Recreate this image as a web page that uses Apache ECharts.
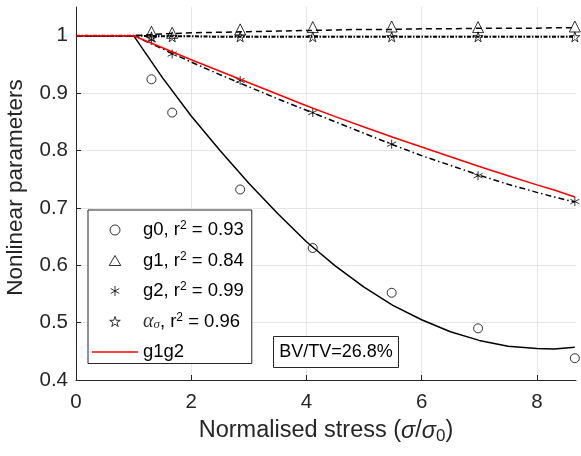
<!DOCTYPE html>
<html><head><meta charset="utf-8">
<script src="https://cdn.jsdelivr.net/npm/echarts@6/dist/echarts.min.js"></script>
<style>html,body{margin:0;padding:0;background:#fff}#c{width:581px;height:456px}</style>
</head><body><div id="c"></div>
<script>
// ---- data ----
const xPts = [1.31, 1.67, 2.85, 4.11, 5.48, 6.98, 8.66];
const g0Pts = [0.924, 0.866, 0.732, 0.630, 0.552, 0.490, 0.438];
const g1Pts = [1.007, 1.005, 1.011, 1.015, 1.016, 1.015, 1.016];
const g2Pts = [0.993, 0.968, 0.922, 0.866, 0.811, 0.756, 0.711];
const alphaPts = [0.998, 0.998, 0.998, 0.998, 0.998, 0.998, 0.998];

const fitX = [0, 1, 1.5, 2, 2.5, 3, 3.5, 4, 4.5, 5, 5.5, 6, 6.5, 7, 7.5, 8, 8.3, 8.66];
const g0Fit = [1, 1, 0.927, 0.860, 0.800, 0.743, 0.690, 0.641, 0.599, 0.562, 0.530, 0.505, 0.484, 0.469, 0.459, 0.455, 0.454, 0.457];
const g1Fit = [1, 1, 1.003, 1.005, 1.006, 1.007, 1.008, 1.009, 1.010, 1.011, 1.011, 1.012, 1.012, 1.013, 1.013, 1.013, 1.014, 1.014];
const g2Fit = [1, 1, 0.977, 0.954, 0.932, 0.911, 0.890, 0.870, 0.850, 0.830, 0.810, 0.791, 0.774, 0.757, 0.741, 0.727, 0.719, 0.710];
const alphaFit = [1, 1, 0.999, 0.999, 0.998, 0.998, 0.998, 0.998, 0.998, 0.998, 0.998, 0.998, 0.998, 0.998, 0.998, 0.998, 0.998, 0.998];
const g1g2Fit = [1, 1, 0.979, 0.958, 0.938, 0.918, 0.898, 0.878, 0.859, 0.841, 0.823, 0.806, 0.789, 0.772, 0.756, 0.740, 0.731, 0.719];

const xTicks = [0, 2, 4, 6, 8];
const yTicks = [0.4, 0.5, 0.6, 0.7, 0.8, 0.9, 1];
const rSquared = { g0: '0.93', g1: '0.84', g2: '0.99', alpha: '0.96' };
const bvtvText = 'BV/TV=26.8%';

// ---- helpers ----
const zip = (xs, ys) => xs.map((x, i) => [x, ys[i]]);
const INK = '#262626';
const STAR = 'path://M50,0 L61.2,34.5 L97.6,34.5 L68.2,55.9 L79.4,90.5 L50,69.1 L20.6,90.5 L31.8,55.9 L2.4,34.5 L38.8,34.5 Z';
const ASTER = 'path://M5,0 L5,10 M0.67,2.5 L9.33,7.5 M0.67,7.5 L9.33,2.5';
const TRI = 'path://M5,0 L10,8.66 L0,8.66 Z';
const LINEICON = 'path://M0,0 L46,0 L46,1.3 L0,1.3 Z';
const near = (v, arr) => arr.some(t => Math.abs(t - v) < 1e-6);

const markerStyle = { color: 'transparent', borderColor: '#000', borderWidth: 1 };
function fitLine(data, type, width) {
  return { type: 'line', data: data, symbol: 'none', showSymbol: false, silent: true,
    lineStyle: { color: '#000', width: width, type: type }, z: 2 };
}
function scatter(name, ys, symbol, size) {
  return { type: 'scatter', name: name, data: zip(xPts, ys), symbol: symbol, symbolSize: size,
    itemStyle: markerStyle, z: 4 };
}

const chart = echarts.init(document.getElementById('c'), null, { renderer: 'canvas' });
chart.setOption({
  animation: false,
  backgroundColor: '#fff',
  textStyle: { fontFamily: 'Liberation Sans' },
  grid: { left: 76, right: 5, top: 7, bottom: 76, containLabel: false, outerBoundsMode: 'none' },
  xAxis: {
    type: 'value', min: 0, max: 8.68, interval: 2,
    axisLine: { show: true, lineStyle: { color: INK, width: 1 } },
    axisTick: { show: true, inside: true, length: 5, lineStyle: { color: INK } },
    axisLabel: { fontSize: 20.5, color: INK, margin: 12, showMaxLabel: false,
      formatter: v => near(v, xTicks) ? String(v) : '' },
    splitLine: { show: true, showMaxLine: false, lineStyle: { color: '#e6e6e6', width: 1 } },
    name: '{t|Normalised stress (}{i|σ}{t|/}{i|σ}{s|0}{t|)}',
    nameLocation: 'middle', nameGap: 37,
    nameTextStyle: { rich: {
      t: { fontSize: 23.5, lineHeight: 28, color: INK, fontFamily: 'Liberation Sans' },
      i: { fontSize: 23.5, lineHeight: 28, color: INK, fontFamily: 'Liberation Sans', fontStyle: 'italic' },
      s: { fontSize: 17, lineHeight: 14, color: INK, fontFamily: 'Liberation Sans', verticalAlign: 'bottom' }
    } }
  },
  yAxis: {
    type: 'value', min: 0.4, max: 1.05, interval: 0.1,
    axisLine: { show: true, lineStyle: { color: INK, width: 1 } },
    axisTick: { show: true, inside: true, length: 5, lineStyle: { color: INK } },
    axisLabel: { fontSize: 20.5, color: INK, margin: 8, showMaxLabel: false,
      formatter: v => near(v, yTicks) ? String(Math.round(v * 10) / 10) : '' },
    splitLine: { show: true, showMaxLine: false, lineStyle: { color: '#e6e6e6', width: 1 } },
    name: 'Nonlinear parameters', nameLocation: 'middle', nameGap: 44,
    nameTextStyle: { fontSize: 22.5, lineHeight: 26, color: INK, padding: [0, 0, 0, 12] }
  },
  legend: {
    orient: 'vertical', left: 88, top: 210,
    padding: [10, 8, 2, 4],
    itemWidth: 46, itemHeight: 10, itemGap: 11,
    backgroundColor: '#fff', borderColor: INK, borderWidth: 1,
    selectedMode: false,
    symbolKeepAspect: true,
    data: ['g0', 'g1', 'g2', 'alpha',
      { name: 'g1g2', icon: LINEICON, itemStyle: { color: '#ff0000', borderWidth: 0 } }],
    itemStyle: { borderWidth: 1 },
    formatter: name => {
      if (name === 'g1g2') return '{t|g1g2}';
      if (name === 'alpha') return '{al|α}{sb|σ}{t|, r}{sp|2}{t| = ' + rSquared.alpha + '}';
      return '{t|' + name + ', r}{sp|2}{t| = ' + rSquared[name] + '}';
    },
    textStyle: { color: '#000', fontSize: 18.5, rich: {
      t: { fontSize: 18.5, lineHeight: 20, color: '#000', fontFamily: 'Liberation Sans' },
      sp: { fontSize: 12, lineHeight: 7, color: '#000', fontFamily: 'Liberation Sans', verticalAlign: 'top' },
      al: { fontSize: 20, lineHeight: 20, color: '#333', fontFamily: 'Liberation Serif', fontStyle: 'italic' },
      sb: { fontSize: 13, lineHeight: 1, color: '#333', fontFamily: 'Liberation Serif', fontStyle: 'italic', verticalAlign: 'bottom' }
    } }
  },
  graphic: [
    { type: 'rect', z: 100, shape: { x: 273.5, y: 336.5, width: 125, height: 31 },
      style: { fill: '#fff', stroke: INK, lineWidth: 1 } },
    { type: 'text', z: 101, x: 336, y: 352,
      style: { text: bvtvText, fontSize: 18, fontFamily: 'Liberation Sans', fill: '#000',
        align: 'center', verticalAlign: 'middle', textAlign: 'center', textVerticalAlign: 'middle' } }
  ],
  series: [
    fitLine(zip(fitX, g0Fit), 'solid', 1.5),
    fitLine(zip(fitX, g1Fit), [6, 4], 1.5),
    fitLine(zip(fitX, alphaFit), [4, 1.5, 1.5, 1.5], 2),
    fitLine(zip(fitX, g2Fit), [6, 3, 1.5, 3], 1.5),
    scatter('g0', g0Pts, 'circle', 9),
    scatter('g1', g1Pts, TRI, 11),
    scatter('g2', g2Pts, ASTER, 9),
    scatter('alpha', alphaPts, STAR, 10),
    { type: 'line', name: 'g1g2', data: zip(fitX, g1g2Fit), symbol: 'none', showSymbol: false,
      lineStyle: { color: '#ff0000', width: 1.5 }, itemStyle: { color: '#ff0000' }, z: 5 }
  ]
});
</script>
</body></html>
